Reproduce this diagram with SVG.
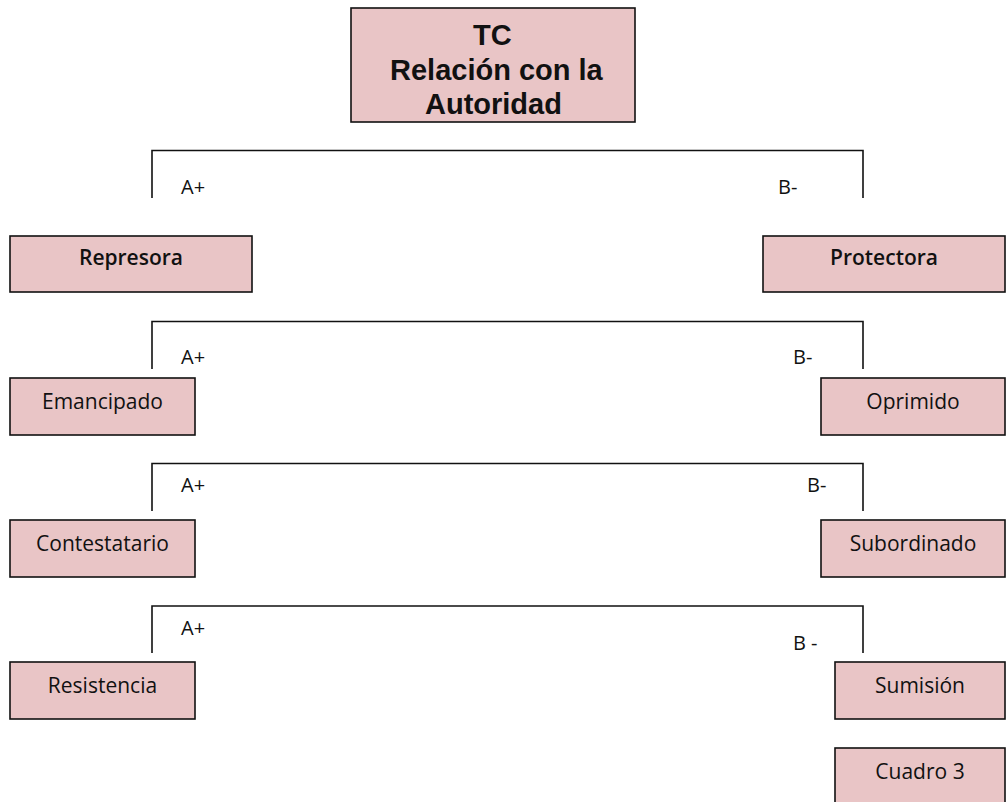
<svg xmlns="http://www.w3.org/2000/svg" width="1008" height="802" viewBox="0 0 1008 802">
<style>
.box{fill:#e9c5c6;stroke:#111;stroke-width:1.6}
.t{font-family:"Open Sans","DejaVu Sans",sans-serif;font-size:21px;fill:#111;text-anchor:middle}
.b{font-weight:600}
.big{font-family:"Liberation Sans",Arial,sans-serif;font-size:29px;font-weight:bold;fill:#111}
.lbl{font-family:"Open Sans","DejaVu Sans",sans-serif;font-size:20px;fill:#111}
.br{fill:none;stroke:#111;stroke-width:1.6}
</style>
<rect width="1008" height="802" fill="#fff"/>
<g id="connectors">
<path class="br" d="M152 198V150.5H863V198"/>
<path class="br" d="M152 369V321.5H863V369"/>
<path class="br" d="M152 511V463.5H863V511"/>
<path class="br" d="M152 653V606H863V653"/>
<text class="lbl" x="181" y="194">A+</text>
<text class="lbl" x="778" y="194">B-</text>
<text class="lbl" x="181" y="364">A+</text>
<text class="lbl" x="793" y="364">B-</text>
<text class="lbl" x="181" y="492">A+</text>
<text class="lbl" x="807" y="492">B-</text>
<text class="lbl" x="181" y="635">A+</text>
<text class="lbl" x="793" y="650">B -</text>
</g>
<g id="n-tc">
<rect class="box" x="351" y="8" width="284" height="114"/>
<text class="big" x="473" y="45">TC</text>
<text class="big" x="390" y="80">Relación con la</text>
<text class="big" x="425" y="114">Autoridad</text>
</g>
<g id="n-represora">
<rect class="box" x="10" y="236" width="242" height="56"/>
<text class="t b" x="131" y="265">Represora</text>
</g>
<g id="n-protectora">
<rect class="box" x="763" y="236" width="242" height="56"/>
<text class="t b" x="884" y="265">Protectora</text>
</g>
<g id="n-emancipado">
<rect class="box" x="10" y="378" width="185" height="57"/>
<text class="t" x="102.5" y="409">Emancipado</text>
</g>
<g id="n-oprimido">
<rect class="box" x="821" y="378" width="184" height="57"/>
<text class="t" x="913" y="409">Oprimido</text>
</g>
<g id="n-contestatario">
<rect class="box" x="10" y="520" width="185" height="57"/>
<text class="t" x="102.5" y="551">Contestatario</text>
</g>
<g id="n-subordinado">
<rect class="box" x="821" y="520" width="184" height="57"/>
<text class="t" x="913" y="551">Subordinado</text>
</g>
<g id="n-resistencia">
<rect class="box" x="10" y="662" width="185" height="57"/>
<text class="t" x="102.5" y="693">Resistencia</text>
</g>
<g id="n-sumision">
<rect class="box" x="835" y="662" width="170" height="57"/>
<text class="t" x="920" y="693">Sumisión</text>
</g>
<g id="n-cuadro3">
<rect class="box" x="835" y="748" width="170" height="60"/>
<text class="t" x="920" y="779">Cuadro 3</text>
</g>
</svg>
